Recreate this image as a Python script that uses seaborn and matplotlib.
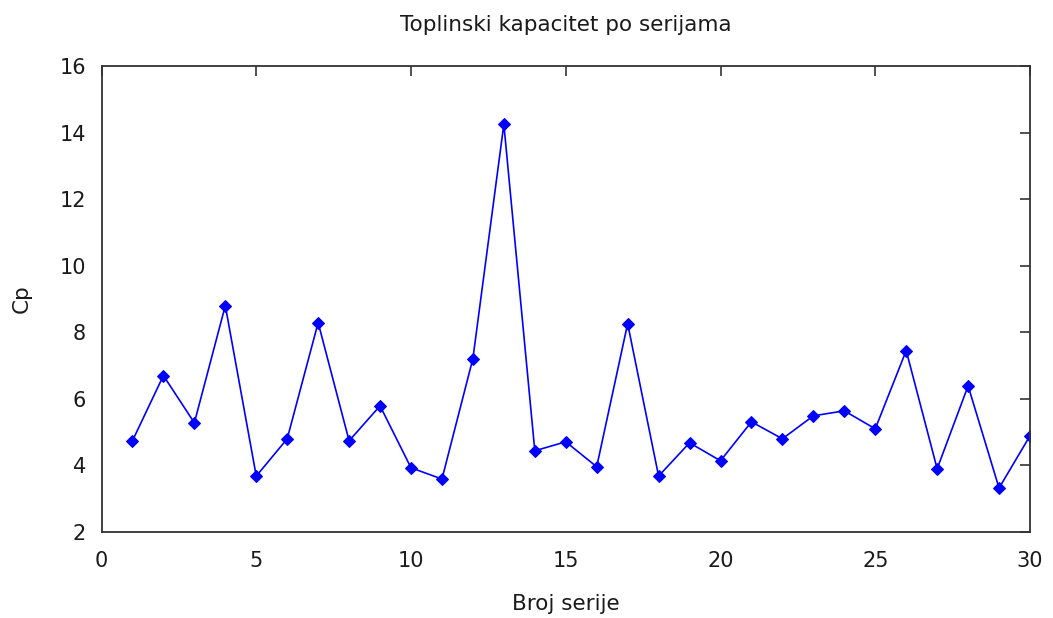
import pandas as pd
import matplotlib.pyplot as plt
import seaborn as sns

# =========================
# DATA
# =========================
serija = list(range(1, 31))
cp = [4.74, 6.70, 5.28, 8.80, 3.68, 4.80, 8.29, 4.74, 5.79, 3.93,
      3.59, 7.21, 14.25, 4.44, 4.71, 3.96, 8.26, 3.68, 4.68, 4.14,
      5.31, 4.80, 5.49, 5.64, 5.10, 7.45, 3.90, 6.39, 3.32, 4.89]
x_ticks = [0, 5, 10, 15, 20, 25, 30]
y_ticks = [2, 4, 6, 8, 10, 12, 14, 16]

df = pd.DataFrame({"serija": serija, "cp": cp})

# =========================
# PLOT
# =========================
sns.set_style("white")
plt.rcParams['font.family'] = ['DejaVu Sans']

fig = plt.figure(figsize=(10.53, 6.18), dpi=100)
# axes box in pixels: left 101.5, right 1030, top 66, bottom 532
ax = fig.add_axes([101.5 / 1053, 1 - 532 / 618, 928.5 / 1053, 466 / 618])

sns.lineplot(data=df, x="serija", y="cp", ax=ax, color="#0000ff",
             linewidth=1.2, marker="D", markersize=6,
             markeredgecolor="#0000ff", markerfacecolor="#0000ff")

ax.set_xlim(0, 30)
ax.set_ylim(2, 16)
ax.set_xticks(x_ticks)
ax.set_yticks(y_ticks)
ax.tick_params(direction="in", length=7, width=1.2, colors="#333333",
               labelcolor="#1a1a1a", labelsize=15, top=True, right=True)
ax.tick_params(axis="x", pad=14)
ax.tick_params(axis="y", pad=11)
for s in ax.spines.values():
    s.set_color("#333333")
    s.set_linewidth(1.3)

ax.set_title("Toplinski kapacitet po serijama", fontsize=15.5, pad=25,
             color="#1a1a1a")
ax.set_xlabel("Broj serije", fontsize=15.5, labelpad=16, color="#1a1a1a")
ax.set_ylabel("Cp", fontsize=15.5, labelpad=20, color="#1a1a1a")

fig.savefig("out.png", dpi=100, facecolor="white")
